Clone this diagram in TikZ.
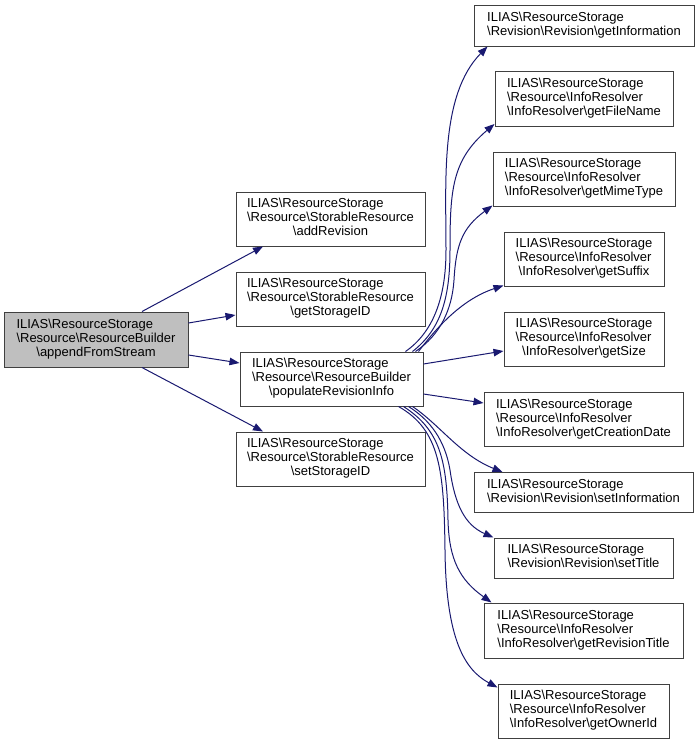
\documentclass[tikz,border=0pt]{standalone}
\usepackage{fontspec}
\setmainfont{Liberation Sans}
\usetikzlibrary{arrows.meta,calc}
\definecolor{edgeblue}{HTML}{191970}
\definecolor{boxgray}{HTML}{BFBFBF}
\definecolor{boxline}{HTML}{404040}
\newcommand{\bs}{\textbackslash}
\newcommand{\lbthree}[3]{\begin{tabular}{@{}l@{}}#1\\#2\\\multicolumn{1}{@{}c@{}}{#3}\end{tabular}}
\newcommand{\lbtwo}[2]{\begin{tabular}{@{}l@{}}#1\\\multicolumn{1}{@{}c@{}}{#2}\end{tabular}}
\tikzset{
  fn/.style={draw=boxline, line width=1pt, fill=white, rectangle, inner sep=0pt,
    font=\fontsize{13}{14}\selectfont, align=center},
  cur/.style={fn, fill=boxgray},
  call/.style={draw=edgeblue, line width=1pt, -{Triangle[length=10pt,width=7.5pt]}}
}
\begin{document}
\begin{tikzpicture}[x=1pt,y=-1pt]
\useasboundingbox (0,0) rectangle (699,745);
\node[cur, minimum width=184pt, minimum height=55pt] (a) at (96,339.5)
  {\lbthree{ILIAS\bs ResourceStorage}{\bs Resource\bs ResourceBuilder}{\bs appendFromStream}};
\node[fn, minimum width=189pt, minimum height=54pt] (b1) at (330.5,219)
  {\lbthree{ILIAS\bs ResourceStorage}{\bs Resource\bs StorableResource}{\bs addRevision}};
\node[fn, minimum width=189pt, minimum height=54pt] (b2) at (330.5,299)
  {\lbthree{ILIAS\bs ResourceStorage}{\bs Resource\bs StorableResource}{\bs getStorageID}};
\node[fn, minimum width=183pt, minimum height=54pt] (b3) at (331.5,379)
  {\lbthree{ILIAS\bs ResourceStorage}{\bs Resource\bs ResourceBuilder}{\bs populateRevisionInfo}};
\node[fn, minimum width=189pt, minimum height=54pt] (b4) at (330.5,459)
  {\lbthree{ILIAS\bs ResourceStorage}{\bs Resource\bs StorableResource}{\bs setStorageID}};
\node[fn, minimum width=220pt, minimum height=41pt] (c1) at (584,25.5)
  {\lbtwo{ILIAS\bs ResourceStorage}{\bs Revision\bs Revision\bs getInformation}};
\node[fn, minimum width=178pt, minimum height=55pt] (c2) at (584,99)
  {\lbthree{ILIAS\bs ResourceStorage}{\bs Resource\bs InfoResolver}{\bs InfoResolver\bs getFileName}};
\node[fn, minimum width=182pt, minimum height=54pt] (c3) at (584,179)
  {\lbthree{ILIAS\bs ResourceStorage}{\bs Resource\bs InfoResolver}{\bs InfoResolver\bs getMimeType}};
\node[fn, minimum width=160pt, minimum height=54pt] (c4) at (584,259)
  {\lbthree{ILIAS\bs ResourceStorage}{\bs Resource\bs InfoResolver}{\bs InfoResolver\bs getSuffix}};
\node[fn, minimum width=160pt, minimum height=54pt] (c5) at (584,339)
  {\lbthree{ILIAS\bs ResourceStorage}{\bs Resource\bs InfoResolver}{\bs InfoResolver\bs getSize}};
\node[fn, minimum width=199pt, minimum height=54pt] (c6) at (583.5,419.5)
  {\lbthree{ILIAS\bs ResourceStorage}{\bs Resource\bs InfoResolver}{\bs InfoResolver\bs getCreationDate}};
\node[fn, minimum width=219pt, minimum height=40pt] (c7) at (583.5,492.5)
  {\lbtwo{ILIAS\bs ResourceStorage}{\bs Revision\bs Revision\bs setInformation}};
\node[fn, minimum width=179pt, minimum height=40pt] (c8) at (583.5,558)
  {\lbtwo{ILIAS\bs ResourceStorage}{\bs Revision\bs Revision\bs setTitle}};
\node[fn, minimum width=199pt, minimum height=55pt] (c9) at (583.5,630.5)
  {\lbthree{ILIAS\bs ResourceStorage}{\bs Resource\bs InfoResolver}{\bs InfoResolver\bs getRevisionTitle}};
\node[fn, minimum width=171pt, minimum height=54pt] (c10) at (583.5,711)
  {\lbthree{ILIAS\bs ResourceStorage}{\bs Resource\bs InfoResolver}{\bs InfoResolver\bs getOwnerId}};
% edges from appendFromStream
\draw[call] ($(a.north)+(46,0)$) -- ($(b1.south)+(-67.5,0)$);
\draw[call] ($(a.east)+(0,-16.5)$) -- ($(b2.west)+(0,16)$);
\draw[call] ($(a.east)+(0,15.5)$) -- ($(b3.west)+(0,-16)$);
\draw[call] ($(a.south)+(46,0)$) -- ($(b4.north)+(-67.5,0)$);
% edges from populateRevisionInfo
\draw[call] ($(b3.north east)+(-18,0)$) .. controls (432,333) and (446,300) .. (446,250)
  .. controls (446,180) and (440,95) .. ($(c1.south west)+(14,0)$);
\draw[call] ($(b3.north east)+(-11,0)$) .. controls (440,330) and (450,300) .. (450,250)
  .. controls (450,190) and (452,160) .. ($(c2.south west)+(0,-3)$);
\draw[call] ($(b3.north east)+(-8,0)$) .. controls (440,335) and (452,310) .. (454,280)
  .. controls (456,245) and (462,228) .. ($(c3.south west)+(0,-1)$);
\draw[call] ($(b3.north east)+(-5,0)$) .. controls (435,330) and (460,300) .. ($(c4.south west)+(0,-1)$);
\draw[call] ($(b3.east)+(0,-15)$) -- ($(c5.west)+(0,12)$);
\draw[call] ($(b3.east)+(0,15)$) -- ($(c6.west)+(0,-16.5)$);
\draw[call] ($(b3.south east)+(-11,0)$) .. controls (440,425) and (460,455) .. ($(c7.north west)+(29,0)$);
\draw[call] ($(b3.south east)+(-15,0)$) .. controls (430,420) and (445,440) .. (450,470)
  .. controls (455,505) and (465,525) .. (c8.north west);
\draw[call] ($(b3.south east)+(-20,0)$) .. controls (440,430) and (447,460) .. (448,520)
  .. controls (449,560) and (460,580) .. ($(c9.north west)+(8,0)$);
\draw[call] ($(b3.south east)+(-25,0)$) .. controls (440,430) and (444,470) .. (445,550)
  .. controls (446,640) and (465,670) .. ($(c10.north west)+(0,4)$);
\end{tikzpicture}
\end{document}
